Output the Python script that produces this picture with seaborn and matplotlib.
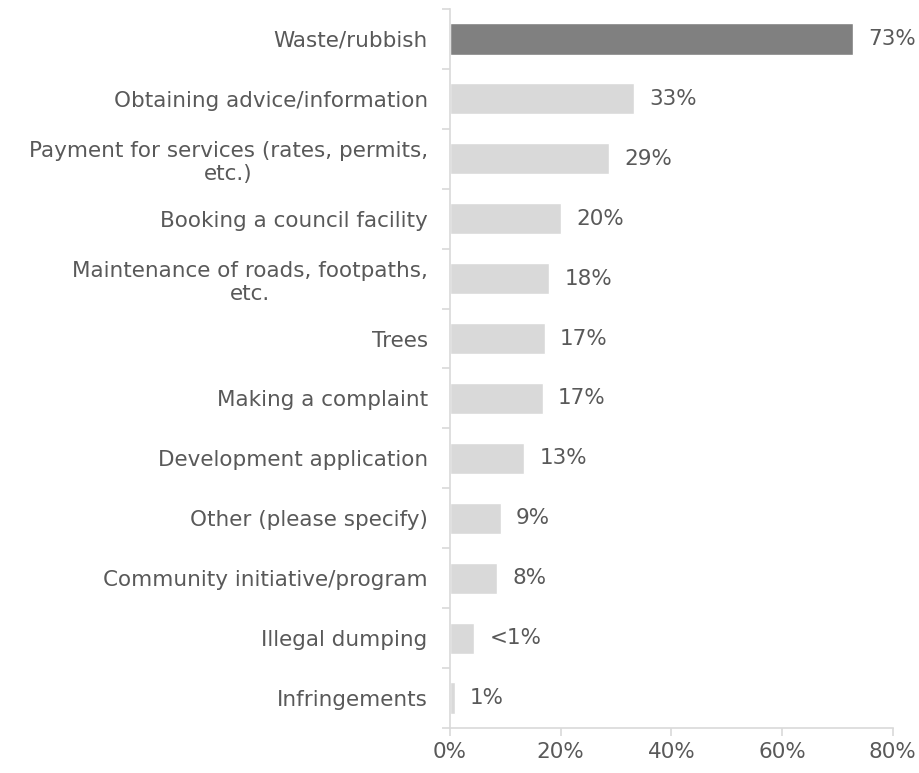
import numpy as np
import pandas as pd
import seaborn as sns
import matplotlib.pyplot as plt

# Categorias e valores
categorias = [
    "Waste/rubbish",
    "Obtaining advice/information",
    "Payment for services (rates, permits,\netc.)",
    "Booking a council facility",
    "Maintenance of roads, footpaths,\netc.",
    "Trees",
    "Making a complaint",
    "Development application",
    "Other (please specify)",
    "Community initiative/program",
    "Illegal dumping",
    "Infringements",
]
valores = [72.8, 33.2, 28.7, 20.0, 17.9, 17.1, 16.8, 13.4, 9.2, 8.5, 4.4, 0.9]
rotulos = ["73%", "33%", "29%", "20%", "18%", "17%", "17%", "13%", "9%", "8%", "<1%", "1%"]
ticks_x = [0, 20, 40, 60, 80]

cinza_texto = "#595959"
cinza_eixo = "#d9d9d9"
cores = ["#808080"] + ["#d9d9d9"] * (len(categorias) - 1)

df = pd.DataFrame({"categoria": categorias, "valor": valores})

sns.set_theme(style="white")
plt.rcParams["font.family"] = ["DejaVu Sans"]

fig = plt.figure(figsize=(9.2, 7.73), dpi=100)
ax = fig.add_axes([0.489, 0.0582, 0.4815, 0.9302])

sns.barplot(data=df, y="categoria", x="valor", hue="categoria",
            palette=cores, legend=False, width=0.52, ax=ax, orient="h")

for cont, txt in zip(ax.containers, rotulos):
    ax.bar_label(cont, labels=[txt], padding=11, fontsize=15.5, color=cinza_texto)

ax.set_xlim(0, 80)
ax.set_ylim(len(categorias) - 0.5, -0.5)
ax.set_xticks(ticks_x)
ax.set_xticklabels([f"{t}%" for t in ticks_x])
ax.set_xlabel("")
ax.set_ylabel("")

ax.set_yticks(range(len(categorias)))
ax.set_yticklabels(categorias)
ax.set_yticks(np.arange(-0.5, len(categorias), 1), minor=True)
for lbl in ax.get_yticklabels():
    lbl.set_multialignment("center")

ax.tick_params(axis="y", which="major", left=True, length=0, pad=16,
               labelsize=15.5, labelcolor=cinza_texto)
ax.tick_params(axis="y", which="minor", left=True, length=6, width=1.2,
               color=cinza_eixo, direction="out")
ax.tick_params(axis="x", which="major", bottom=True, length=6, width=1.2,
               color=cinza_eixo, direction="out",
               labelsize=15.5, labelcolor=cinza_texto, pad=4)

sns.despine(ax=ax, top=True, right=True)
for lado in ["left", "bottom"]:
    ax.spines[lado].set_color(cinza_eixo)
    ax.spines[lado].set_linewidth(1.2)

fig.savefig("out.png", dpi=100)
